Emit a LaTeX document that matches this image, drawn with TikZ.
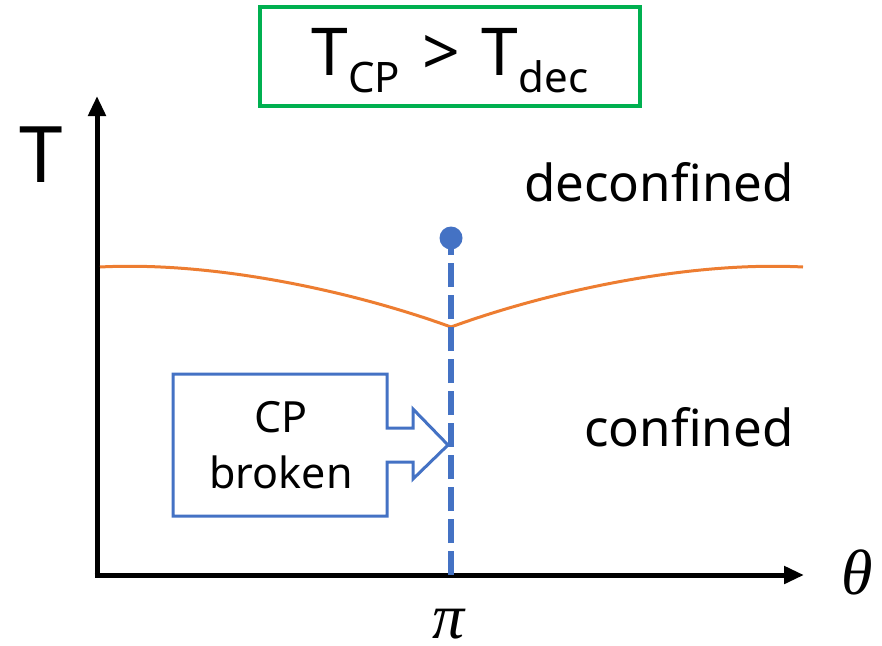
\documentclass[tikz,border=0pt]{standalone}
\usepackage{fontspec}
\setmainfont{Noto Sans}
\newfontfamily\greekfont{Liberation Serif}
\usetikzlibrary{arrows.meta}
\definecolor{framegreen}{RGB}{0,176,80}
\definecolor{curveorange}{RGB}{237,125,49}
\definecolor{lineblue}{RGB}{68,114,196}
\tikzset{
  axis/.style={line width=5pt,-{Triangle[length=20pt,width=17pt]}},
  lbl/.style={inner sep=0pt,font=\fontsize{51}{60}\selectfont},
  mathlbl/.style={inner sep=0pt,font=\greekfont\itshape\fontsize{64}{70}\selectfont},
}
\newcommand{\subtxt}[1]{\raisebox{-17pt}{\fontsize{42}{50}\selectfont #1}}
\begin{document}
\begin{tikzpicture}[x=1pt,y=-1pt]
  \useasboundingbox (0,0) rectangle (882,645);
  % title box
  \node[draw=framegreen,line width=4.5pt,minimum width=380pt,minimum height=99pt,inner sep=0pt]
    (title) at (450,56.5) {};
  \node[inner sep=0pt,anchor=base] (titletext) at (450,75)
    {\fontsize{66}{70}\selectfont T\subtxt{CP}\hspace{22pt}>\hspace{22pt}T\subtxt{dec}};
  % axes
  \coordinate (origin) at (97,575);
  \coordinate (ytip) at (97,96);
  \coordinate (xtip) at (804,575);
  \draw[axis] (97,577.5) -- (ytip);
  \draw[axis] (94.5,575) -- (xtip);
  \node[inner sep=0pt,anchor=base,font=\fontsize{78}{80}\selectfont] (tlabel) at (41,182) {T};
  \node[mathlbl] (thetalabel) at (857,572) {θ};
  \node[mathlbl,anchor=base] (pilabel) at (449,638) {π};
  % region labels
  \node[lbl] (deconf) at (659,182) {deconfined};
  \node[lbl] (conf) at (689,427) {confined};
  % transition curve
  \coordinate (left) at (100,267);
  \coordinate (cusp) at (451,327);
  \coordinate (right) at (803,267);
  \draw[curveorange,line width=3pt] (left) .. controls (215,261) and (355,292) .. (cusp)
    .. controls (547,292) and (687,261) .. (right);
  % critical line with endpoint
  \coordinate (lineend) at (451,238);
  \coordinate (linebase) at (451,575);
  \draw[lineblue,line width=6pt,dash pattern=on 24pt off 8pt] (linebase) -- (lineend);
  \fill[lineblue] (lineend) circle (11.5pt);
  % callout box
  \draw[lineblue,line width=3pt,line join=miter]
    (173,374) -- (387,374) -- (387,428) -- (413,428) -- (413,409) -- (448,445)
    -- (413,479) -- (413,462) -- (387,462) -- (387,516) -- (173,516) -- cycle;
  \node[inner sep=0pt,anchor=base,font=\fontsize{43}{56}\selectfont,align=center] (cpbroken) at (281,488)
    {CP\\broken};
\end{tikzpicture}
\end{document}
